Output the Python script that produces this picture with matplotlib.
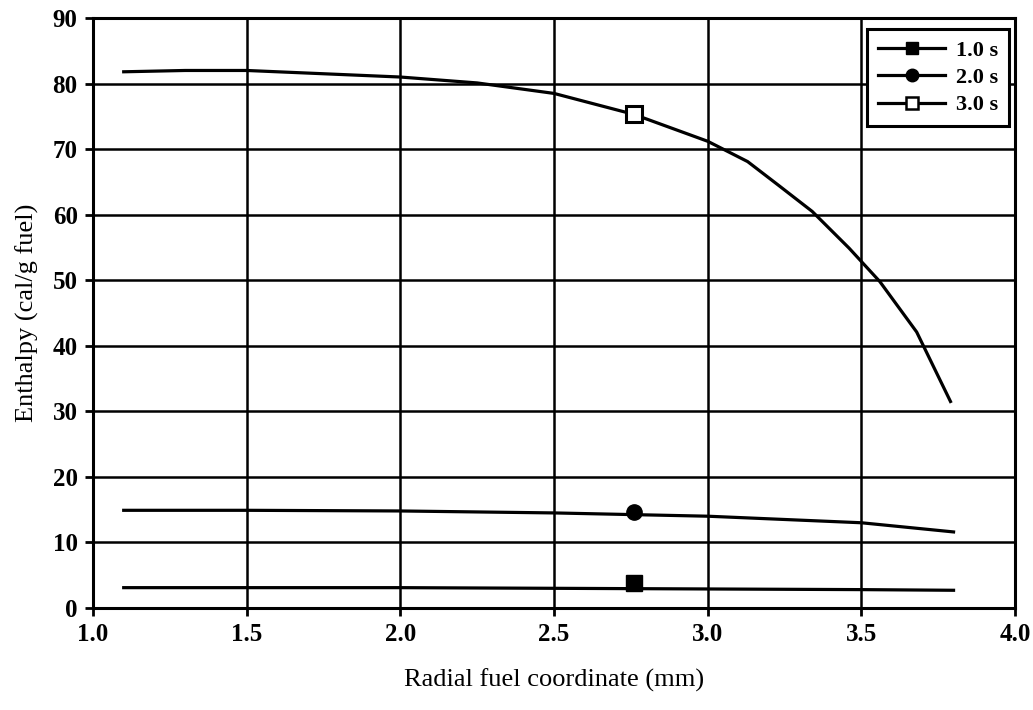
import numpy as np
import matplotlib
matplotlib.use("Agg")
import matplotlib.pyplot as plt
from matplotlib.lines import Line2D

# radial coordinate (mm) and enthalpy (cal/g fuel)
r_3s = [1.1, 1.3, 1.5, 1.7, 2.0, 2.25, 2.5, 2.76, 3.0, 3.13, 3.23, 3.34, 3.46, 3.56, 3.68, 3.79]
h_3s = [81.8, 82.0, 82.0, 81.6, 81.0, 80.1, 78.5, 75.3, 71.2, 68.1, 64.5, 60.5, 54.9, 49.8, 42.1, 31.5]

r_2s = [1.1, 1.5, 2.0, 2.5, 3.0, 3.5, 3.8]
h_2s = [14.9, 14.9, 14.8, 14.5, 14.0, 13.0, 11.6]

r_1s = [1.1, 1.5, 2.0, 2.5, 3.0, 3.5, 3.8]
h_1s = [3.1, 3.1, 3.1, 3.0, 2.9, 2.8, 2.7]

# single marker on each curve
mark_r = [2.76, 2.76, 2.76]
mark_h = [3.8, 14.7, 75.3]
labels = ["1.0 s", "2.0 s", "3.0 s"]

plt.rcParams['font.family'] = ['Liberation Serif', 'DejaVu Serif']

fig = plt.figure(figsize=(10.33, 7.10), dpi=100)
ax = fig.add_axes([0.090, 0.1437, 0.8926, 0.8309])

ax.plot(r_1s, h_1s, color='black', lw=2.3)
ax.plot(r_2s, h_2s, color='black', lw=2.3)
ax.plot(r_3s, h_3s, color='black', lw=2.3)

ax.plot(mark_r[0], mark_h[0], 's', ms=11, color='black', mec='black')
ax.plot(mark_r[1], mark_h[1], 'o', ms=11, color='black', mec='black')
ax.plot(mark_r[2], mark_h[2], 's', ms=11, mfc='white', mec='black', mew=2.2)

ax.set_xlim(1.0, 4.0)
ax.set_ylim(0, 90)
ax.set_xticks(np.arange(1.0, 4.01, 0.5))
ax.set_yticks(np.arange(0, 91, 10))
ax.set_xticklabels(["%.1f" % v for v in np.arange(1.0, 4.01, 0.5)])
ax.grid(True, color='black', lw=1.8)
for s in ax.spines.values():
    s.set_linewidth(2.2)
ax.tick_params(direction='out', length=6, width=2, labelsize=18, pad=5)
for t in ax.get_xticklabels() + ax.get_yticklabels():
    t.set_fontweight('bold')

ax.set_xlabel("Radial fuel coordinate (mm)", fontsize=19, labelpad=16)
ax.set_ylabel("Enthalpy (cal/g fuel)", fontsize=19, labelpad=10)

handles = [
    Line2D([], [], color='black', lw=2.3, marker='s', ms=9, mfc='black'),
    Line2D([], [], color='black', lw=2.3, marker='o', ms=9, mfc='black'),
    Line2D([], [], color='black', lw=2.3, marker='s', ms=9, mfc='white', mew=1.8),
]
leg = ax.legend(handles, labels, loc='upper right', bbox_to_anchor=(0.994, 0.981),
                borderaxespad=0, fancybox=False, edgecolor='black', framealpha=1,
                prop={'size': 16, 'weight': 'bold'}, handlelength=3.0,
                borderpad=0.5, labelspacing=0.3, handletextpad=0.5)
leg.get_frame().set_linewidth(2.2)

fig.savefig("out.png", dpi=100)
